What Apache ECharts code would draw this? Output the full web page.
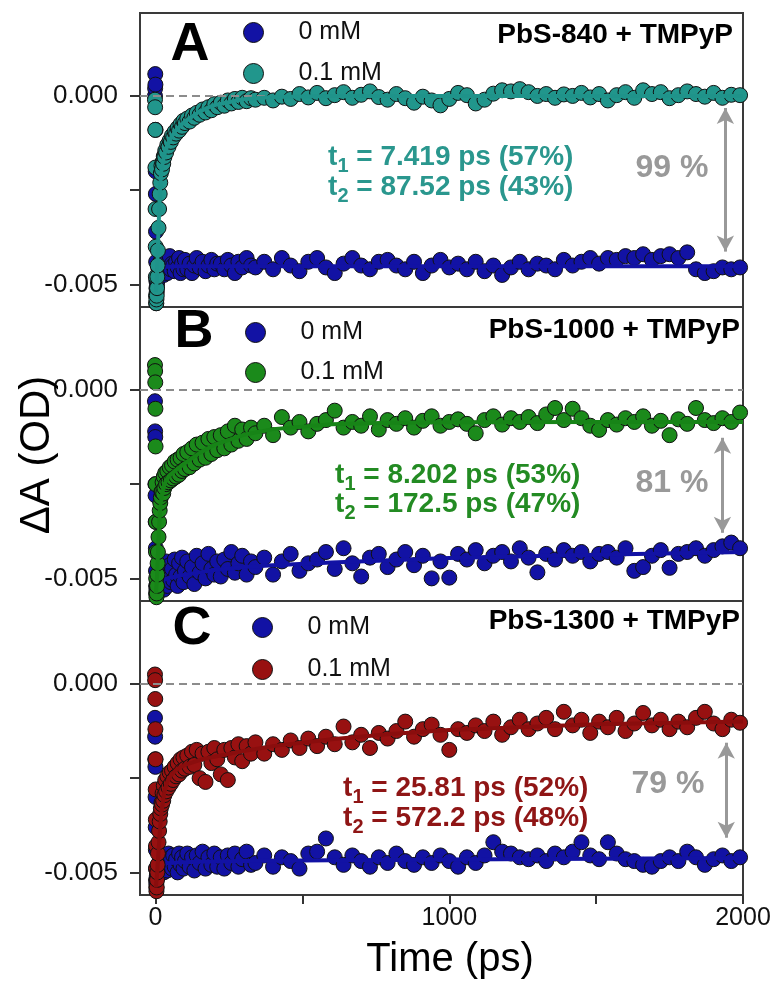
<!DOCTYPE html>
<html><head><meta charset="utf-8">
<script src="https://cdn.jsdelivr.net/npm/echarts@6/dist/echarts.min.js"></script>
<style>html,body{margin:0;padding:0;background:#fff}#c{width:775px;height:983px}</style>
</head><body><div id="c"></div>
<script>
// ---------- DATA (ΔA values in mOD, i.e. 1e-3 OD) ----------
const TIME = [
  -2, -1.5, -1, -0.5, 0, 0.5, 1, 1.5, 2, 2.5, 3,
  4, 5, 6, 7, 8,
  10, 12, 14, 16, 18, 20,
  22, 24, 26, 28, 30, 33, 36, 40, 44, 48, 52, 56,
  60, 65, 70, 75, 80, 85, 90, 95, 100,
  108, 116, 124, 132, 140, 150, 160, 170, 180, 190, 200, 210,
  222, 234, 246, 258, 270, 282, 295, 310, 325,
  340, 370, 400, 430, 460, 490, 520, 550,
  580, 610, 640, 670, 700, 730, 760, 790,
  820, 850, 880, 910, 940, 970, 1000, 1030,
  1060, 1090, 1120, 1150, 1180, 1210, 1240, 1270,
  1300, 1330, 1360, 1390, 1420, 1450, 1480, 1510,
  1540, 1570, 1600, 1630, 1660, 1690, 1720, 1750,
  1780, 1810, 1840, 1870, 1900, 1930, 1960, 1990
];
const FIT_T = [0, 2, 4, 6, 8, 10, 15, 20, 30, 40, 50, 70, 100, 150, 200, 300, 400, 600, 800, 1000, 1500, 2000];

// Panel A: PbS-840 + TMPyP
const A_0MM = [
  0.0, 0.2, 0.58, 0.3, -0.9, -2.0, -2.6, -3.6, -4.4, -4.9, -5.1,
  -5.2, -5.0, -4.9, -4.8, -4.75,
  -4.6, -4.5, -4.7, -4.4, -4.6, -4.5,
  -4.3, -4.6, -4.5, -4.75, -4.4, -4.6, -4.35, -4.7, -4.5, -4.25, -4.6, -4.45,
  -4.5, -4.65, -4.4, -4.55, -4.3, -4.7, -4.45, -4.6, -4.35,
  -4.6, -4.45, -4.7, -4.5, -4.3, -4.55, -4.4, -4.65, -4.5, -4.35, -4.6, -4.45,
  -4.45, -4.6, -4.35, -4.5, -4.7, -4.4, -4.55, -4.3, -4.5,
  -4.55, -4.4, -4.6, -4.3, -4.5, -4.65, -4.4, -4.3,
  -4.55, -4.7, -4.45, -4.3, -4.5, -4.6, -4.4, -4.35,
  -4.5, -4.6, -4.4, -4.7, -4.5, -4.35, -4.55, -4.45,
  -4.6, -4.4, -4.65, -4.5, -4.75, -4.55, -4.4, -4.6,
  -4.45, -4.5, -4.6, -4.35, -4.5, -4.4, -4.3, -4.45,
  -4.3, -4.35, -4.25, -4.3, -4.2, -4.35, -4.25, -4.2,
  -4.3, -4.15, -4.6, -4.7, -4.65, -4.55, -4.6, -4.55
];
const A_01MM = [
  -0.1, -0.3, -0.9, -1.9, -3.0, -4.0, -4.8, -5.3, -5.5, -5.5, -5.4,
  -5.3, -5.1, -4.8, -4.5, -4.1,
  -3.5, -3.0, -2.6, -2.3, -2.05, -1.85,
  -1.95, -1.75, -1.8, -1.6, -1.62, -1.45, -1.5, -1.3, -1.35, -1.18, -1.22, -1.05,
  -1.1, -0.95, -1.0, -0.85, -0.92, -0.75, -0.82, -0.66, -0.72,
  -0.6, -0.68, -0.52, -0.58, -0.45, -0.5, -0.36, -0.44, -0.3, -0.38, -0.22, -0.3,
  -0.18, -0.26, -0.12, -0.2, -0.08, -0.16, -0.05, -0.14, -0.06,
  -0.1, -0.05, -0.12, -0.02, -0.08, 0.05, -0.04, 0.08,
  -0.06, 0.02, 0.1, -0.05, 0.03, 0.12, -0.03, -0.1,
  0.05, -0.06, -0.18, -0.02, -0.12, -0.25, -0.08, 0.08,
  0.02, -0.2, -0.1, 0.06, 0.15, 0.12, 0.18, 0.1,
  0.0, 0.05, -0.05, 0.04, 0.0, 0.08, -0.04, 0.05,
  -0.12, 0.02, 0.1, -0.05, 0.15, 0.05, 0.1, -0.06,
  0.02, 0.12, 0.05, -0.02, 0.08, -0.05, 0.03, 0.02
];
const A_0MM_FIT = [-4.9, -4.85, -4.8, -4.7, -4.62, -4.58, -4.56, -4.55, -4.54, -4.53, -4.53, -4.52, -4.52, -4.52, -4.52, -4.52, -4.52, -4.52, -4.52, -4.52, -4.52, -4.52];
const A_01MM_FIT = [-5.2, -5.1, -4.9, -4.5, -4.0, -3.5, -2.5, -1.95, -1.55, -1.32, -1.15, -0.9, -0.68, -0.41, -0.24, -0.09, -0.03, 0.0, 0.0, 0.0, 0.0, 0.0];

// Panel B: PbS-1000 + TMPyP
const B_0MM = [
  -0.3, -1.1, -1.25, -2.5, -2.8, -3.5, -4.2, -4.8, -5.2, -5.4, -5.3,
  -5.2, -5.1, -5.35, -5.0, -5.2,
  -4.9, -5.15, -4.8, -5.0, -4.7, -5.1,
  -4.6, -5.1, -4.8, -5.3, -4.7, -5.0, -4.55, -5.2, -4.85, -4.65, -5.1, -4.75,
  -5.05, -4.5, -4.9, -5.2, -4.6, -4.95, -4.45, -5.1, -4.8,
  -4.55, -4.95, -4.7, -5.15, -4.4, -4.85, -4.6, -5.0, -4.35, -4.75, -4.9, -4.55,
  -4.95, -4.5, -4.75, -4.3, -4.85, -4.6, -4.4, -4.9, -4.55,
  -4.7, -4.45, -4.9, -4.55, -4.35, -4.8, -4.6, -4.5,
  -4.3, -4.75, -4.2, -4.6, -4.95, -4.45, -4.35, -4.7,
  -4.5, -4.3, -4.65, -4.4, -5.0, -4.55, -4.98, -4.35,
  -4.5, -4.25, -4.6, -4.4, -4.3, -4.55, -4.2, -4.45,
  -4.84, -4.35, -4.5, -4.25, -4.4, -4.3, -4.55, -4.35,
  -4.3, -4.45, -4.2, -4.8, -4.7, -4.4, -4.25, -4.72,
  -4.35, -4.3, -4.2, -4.4, -4.25, -4.15, -4.05, -4.2
];
const B_01MM = [
  0.66, 0.5, 0.2, -0.5, -1.5, -2.5, -3.5, -4.3, -5.0, -5.4, -5.5,
  -5.4, -5.2, -4.9, -4.6, -4.3,
  -3.9, -3.5, -3.2, -3.0, -2.85, -2.7,
  -2.7, -2.45, -2.75, -2.3, -2.6, -2.2, -2.5, -2.15, -2.45, -2.05, -2.4, -2.0,
  -2.35, -1.9, -2.3, -1.85, -2.25, -1.8, -2.15, -1.7, -2.1,
  -1.65, -2.05, -1.55, -1.95, -1.45, -1.85, -1.4, -1.8, -1.3, -1.7, -1.25, -1.6,
  -1.2, -1.55, -1.1, -1.45, -0.95, -1.35, -1.05, -1.3, -1.0,
  -1.15, -0.95, -1.2, -0.72, -1.0, -0.85, -1.1, -0.9,
  -0.8, -0.55, -1.0, -0.85, -0.95, -0.7, -1.05, -0.8,
  -0.9, -0.75, -1.0, -0.82, -0.7, -0.95, -0.85, -0.78,
  -0.9, -1.15, -0.8, -0.7, -0.92, -0.75, -0.85, -0.72,
  -0.88, -0.65, -0.48, -0.8, -0.5, -0.75, -0.95, -1.06,
  -0.8, -0.92, -0.75, -0.85, -0.7, -0.95, -0.82, -1.2,
  -0.78, -0.9, -0.48, -0.8, -0.88, -0.75, -0.85, -0.6
];
const B_0MM_FIT = [-5.2, -5.15, -5.12, -5.1, -5.08, -5.07, -5.06, -5.05, -5.03, -5.0, -4.98, -4.95, -4.9, -4.84, -4.78, -4.7, -4.65, -4.58, -4.52, -4.46, -4.37, -4.3];
const B_01MM_FIT = [-5.4, -5.3, -5.1, -4.8, -4.4, -4.0, -3.2, -2.85, -2.5, -2.35, -2.25, -2.12, -1.94, -1.67, -1.46, -1.19, -1.04, -0.91, -0.87, -0.86, -0.85, -0.85];

// Panel C: PbS-1300 + TMPyP
const C_0MM = [
  -0.9, -1.4, -2.0, -2.2, -3.0, -3.8, -4.4, -4.9, -5.2, -5.3, -5.2,
  -5.1, -5.0, -4.9, -5.05, -4.85,
  -4.8, -4.95, -4.7, -4.9, -4.6, -4.85,
  -4.6, -4.9, -4.7, -5.0, -4.55, -4.85, -4.65, -4.95, -4.5, -4.8, -4.6, -4.9,
  -4.55, -4.85, -4.65, -5.0, -4.5, -4.8, -4.6, -4.9, -4.7,
  -4.5, -4.85, -4.6, -4.95, -4.55, -4.75, -4.45, -4.9, -4.6, -4.8, -4.5, -4.85,
  -4.6, -4.9, -4.55, -4.75, -4.5, -4.85, -4.65, -4.45, -4.8,
  -4.75, -4.55, -4.85, -4.6, -4.7, -4.9, -4.5, -4.45,
  -4.1, -4.6, -4.8, -4.55, -4.7, -4.85, -4.6, -4.75,
  -4.5, -4.7, -4.8, -4.6, -4.75, -4.55, -4.7, -4.85,
  -4.6, -4.75, -4.55, -4.2, -4.45, -4.5, -4.6, -4.65,
  -4.55, -4.7, -4.5, -4.6, -4.45, -4.2, -4.55, -4.65,
  -4.2, -4.5, -4.65, -4.7, -4.8, -4.85, -4.7, -4.6,
  -4.7, -4.45, -4.6, -4.8, -4.65, -4.55, -4.7, -4.6
];
const C_01MM = [
  0.25, 0.1, -0.4, -1.2, -2.0, -2.8, -3.6, -4.3, -4.9, -5.4, -5.5,
  -5.4, -5.2, -5.0, -4.8, -4.5,
  -4.2, -3.9, -3.65, -3.45, -3.3, -3.15,
  -3.2, -2.9, -3.1, -2.7, -2.95, -2.55, -2.85, -2.45, -2.75, -2.35, -2.65, -2.3,
  -2.55, -2.2, -2.45, -2.1, -2.4, -2.0, -2.3, -1.95, -2.25,
  -1.9, -2.2, -1.8, -2.15, -1.75, -2.5, -1.85, -2.6, -1.8, -2.1, -1.7, -2.0,
  -2.4, -1.75, -2.55, -1.7, -1.95, -1.6, -2.05, -1.65, -1.85,
  -1.55, -1.85, -1.6, -1.75, -1.5, -1.7, -1.45, -1.65,
  -1.4, -1.6, -1.13, -1.55, -1.35, -1.7, -1.3, -1.45,
  -1.25, -1.0, -1.4, -1.2, -1.08, -1.35, -1.75, -1.2,
  -1.3, -1.1, -1.25, -1.0, -1.35, -1.15, -0.95, -1.2,
  -1.05, -0.9, -1.2, -0.74, -1.1, -0.95, -1.3, -1.0,
  -1.15, -0.9, -1.25, -1.05, -0.77, -1.1, -0.95, -1.2,
  -1.0, -1.15, -0.9, -0.74, -1.05, -1.2, -0.95, -1.03
];
const C_0MM_FIT = [-5.1, -5.05, -5.0, -4.95, -4.9, -4.85, -4.8, -4.79, -4.77, -4.76, -4.75, -4.74, -4.73, -4.72, -4.71, -4.7, -4.69, -4.68, -4.67, -4.66, -4.64, -4.62];
const C_01MM_FIT = [-5.4, -5.3, -5.15, -4.95, -4.7, -4.45, -3.9, -3.4, -2.85, -2.6, -2.45, -2.28, -2.15, -2.02, -1.93, -1.78, -1.65, -1.47, -1.33, -1.22, -1.07, -1.0];

// Recovery arrows [time, from, to] in mOD
const ARROW_A = [1940, -0.32, -4.13];
const ARROW_B = [1930, -1.27, -3.79];
const ARROW_C = [1943, -1.56, -4.08];

const SERIES_NAMES = ['0 mM', '0.1 mM'];
const PANEL_TITLES = ['PbS-840 + TMPyP', 'PbS-1000 + TMPyP', 'PbS-1300 + TMPyP'];
const PANEL_LETTERS = ['A', 'B', 'C'];
const FIT_TEXT = [
  [['1', ' = 7.419 ps (57%)'], ['2', ' = 87.52 ps (43%)']],
  [['1', ' = 8.202 ps (53%)'], ['2', ' = 172.5 ps (47%)']],
  [['1', ' = 25.81 ps (52%)'], ['2', ' = 572.2 ps (48%)']]
];
const RECOVERY = ['99 %', '81 %', '79 %'];
const Y_TICKS = [-5, -2.5, 0];
const Y_LABELS = [-5, 0];
const X_TICKS = [0, 500, 1000, 1500, 2000];
const X_LABELS = [0, 1000, 2000];

// ---------- STYLE ----------
const FONT = '"Liberation Sans", Arial, sans-serif';
const BLUE = '#1212a4';
const COLORS = ['#21968c', '#1b8a1b', '#981111'];
const TEXT_COLORS = ['#2a978e', '#238b23', '#8f1515'];
const FIT_COLORS = ['#1f938a', '#178417', '#8a0d0d'];

const panels = [
  {d0: A_0MM, d1: A_01MM, f0: A_0MM_FIT, f1: A_01MM_FIT, arrow: ARROW_A},
  {d0: B_0MM, d1: B_01MM, f0: B_0MM_FIT, f1: B_01MM_FIT, arrow: ARROW_B},
  {d0: C_0MM, d1: C_01MM, f0: C_0MM_FIT, f1: C_01MM_FIT, arrow: ARROW_C}
];
const GRID_TOP = [13, 307, 601];
const GRID_H = 294;

function pairs(ts, vs) { const n = Math.min(ts.length, vs.length); const o = []; for (let i = 0; i < n; i++) o.push([ts[i], vs[i]]); return o; }

const grid = [], xAxis = [], yAxis = [], series = [], legend = [], graphic = [];
const tickLine = {color: '#333', width: 2};

panels.forEach((p, i) => {
  grid.push({left: 140, right: 32, top: GRID_TOP[i], height: GRID_H, show: true, borderColor: '#3a3a3a', borderWidth: 2, backgroundColor: 'transparent'});
  const last = i === 2;
  xAxis.push({
    gridIndex: i, type: 'value', min: -53, max: 2000, position: 'bottom',
    axisLine: {show: false, onZero: false}, splitLine: {show: false},
    axisTick: last ? {show: true, inside: false, length: 9, customValues: X_TICKS, lineStyle: tickLine} : {show: false},
    axisLabel: last ? {show: true, customValues: X_LABELS, fontSize: 25, fontFamily: FONT, color: '#111', margin: 11,
      formatter: v => String(v)} : {show: false}
  });
  yAxis.push({
    gridIndex: i, type: 'value', min: -5.6, max: 2.2, position: 'left',
    axisLine: {show: false, onZero: false}, splitLine: {show: false},
    axisTick: {show: true, inside: false, length: 10, customValues: Y_TICKS, lineStyle: tickLine},
    axisLabel: {customValues: Y_LABELS, fontSize: 26, fontFamily: FONT, color: '#111', margin: 22,
      formatter: v => (v / 1000).toFixed(3)}
  });
  const common = {xAxisIndex: i, yAxisIndex: i, animation: false};
  series.push(Object.assign({type: 'scatter', name: SERIES_NAMES[0], data: pairs(TIME, p.d0), symbolSize: 15,
    itemStyle: {color: BLUE, borderColor: '#111', borderWidth: 1, opacity: 1}, z: 2}, common));
  series.push(Object.assign({type: 'line', name: 'fit0-' + i, data: pairs(FIT_T, p.f0), showSymbol: false, symbol: 'none',
    lineStyle: {color: BLUE, width: 4}, z: 3}, common));
  series.push(Object.assign({type: 'scatter', name: SERIES_NAMES[1], data: pairs(TIME, p.d1), symbolSize: 15,
    itemStyle: {color: COLORS[i], borderColor: '#111', borderWidth: 1, opacity: 1}, z: 4}, common));
  series.push(Object.assign({type: 'line', name: 'fit1-' + i, data: pairs(FIT_T, p.f1), showSymbol: false, symbol: 'none',
    lineStyle: {color: FIT_COLORS[i], width: 4}, z: 5,
    markLine: {silent: true, animation: false, symbol: ['none', 'none'],
      data: [
        {yAxis: 0, lineStyle: {type: [8, 5], color: '#8c8c8c', width: 2}},
        [{coord: [p.arrow[0], p.arrow[1]], symbol: 'arrow', symbolSize: [13, 16]},
         {coord: [p.arrow[0], p.arrow[2]], symbol: 'arrow', symbolSize: [13, 16]}]
      ],
      lineStyle: {type: 'solid', color: '#999', width: 3}, label: {show: false}
    }}, common));
});

// legends
const LEG_POS = [[243, 20, 16], [245, 320, 15], [252, 615, 17]];
panels.forEach((p, i) => {
  legend.push({
    orient: 'vertical', left: LEG_POS[i][0], top: LEG_POS[i][1], itemWidth: 20, itemHeight: 20, itemGap: LEG_POS[i][2],
    padding: 0, selectedMode: false,
    textStyle: {fontSize: 25, fontFamily: FONT, color: '#111', padding: [0, 0, 0, 30], lineHeight: 20},
    data: [
      {name: SERIES_NAMES[0], icon: 'circle', itemStyle: {color: BLUE, borderColor: '#111', borderWidth: 1, opacity: 1}},
      {name: SERIES_NAMES[1], icon: 'circle', itemStyle: {color: COLORS[i], borderColor: '#111', borderWidth: 1, opacity: 1}}
    ]
  });
});

// texts
const LETTER_POS = [[190, 45], [194, 332], [192, 629]];
const TITLE_POS = [[733, 35], [740, 330], [740, 621]];
const ANN_POS = [[328, 157, 187], [335, 475, 504], [343, 788, 818]];
const PCT_POS = [[672, 168], [672, 483], [668, 784]];
panels.forEach((p, i) => {
  graphic.push({type: 'text', x: LETTER_POS[i][0], y: LETTER_POS[i][1], z: 100,
    style: {text: PANEL_LETTERS[i], font: 'bold 54px ' + FONT, fill: '#000', align: 'center', verticalAlign: 'middle'}});
  graphic.push({type: 'text', x: TITLE_POS[i][0], y: TITLE_POS[i][1], z: 100,
    style: {text: PANEL_TITLES[i], font: 'bold 28px ' + FONT, fill: '#000', align: 'right', verticalAlign: 'middle'}});
  graphic.push({type: 'text', x: PCT_POS[i][0], y: PCT_POS[i][1], z: 100,
    style: {text: RECOVERY[i], font: 'bold 32px ' + FONT, fill: '#999', align: 'center', verticalAlign: 'middle'}});
  FIT_TEXT[i].forEach((ln, k) => {
    const x = ANN_POS[i][0], y = ANN_POS[i][1 + k];
    const f = 'bold 28px ' + FONT;
    graphic.push({type: 'text', x: x, y: y, z: 100, style: {text: 't', font: f, fill: TEXT_COLORS[i], align: 'left', verticalAlign: 'middle'}});
    graphic.push({type: 'text', x: x + 9.5, y: y + 9, z: 100, style: {text: ln[0], font: 'bold 20px ' + FONT, fill: TEXT_COLORS[i], align: 'left', verticalAlign: 'middle'}});
    graphic.push({type: 'text', x: x + 20.5, y: y, z: 100, style: {text: ln[1], font: f, fill: TEXT_COLORS[i], align: 'left', verticalAlign: 'middle'}});
  });
});
graphic.push({type: 'text', x: 37, y: 455, rotation: Math.PI / 2, z: 100,
  style: {text: 'ΔA (OD)', font: '42px ' + FONT, fill: '#000', align: 'center', verticalAlign: 'middle'}});
graphic.push({type: 'text', x: 450, y: 960, z: 100,
  style: {text: 'Time (ps)', font: '40px ' + FONT, fill: '#000', align: 'center', verticalAlign: 'middle'}});

const chart = echarts.init(document.getElementById('c'), null, {renderer: 'canvas'});
chart.setOption({animation: false, backgroundColor: '#fff', grid, xAxis, yAxis, series, legend, graphic});
</script></body></html>
